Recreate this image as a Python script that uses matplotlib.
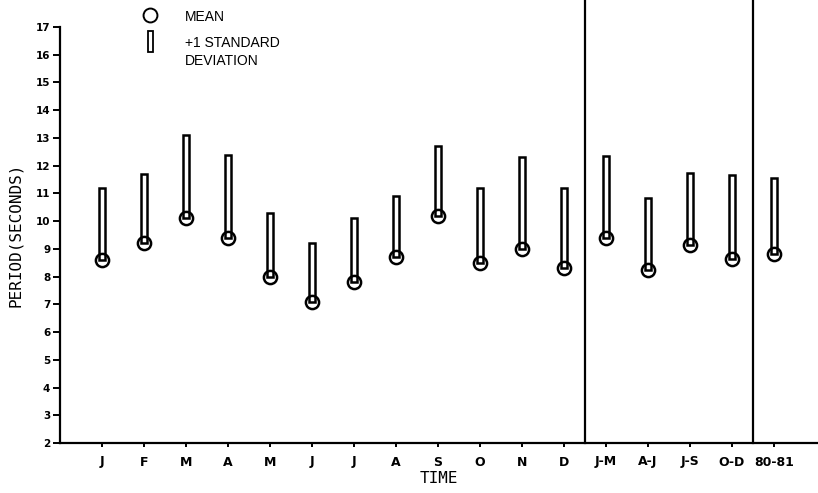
import matplotlib.pyplot as plt
from matplotlib.patches import Rectangle
from matplotlib.lines import Line2D

# periods (seconds)
labels = ['J', 'F', 'M', 'A', 'M', 'J', 'J', 'A', 'S', 'O', 'N', 'D',
          'J-M', 'A-J', 'J-S', 'O-D', '80-81']
means = [8.6, 9.2, 10.1, 9.4, 8.0, 7.1, 7.8, 8.7, 10.2, 8.5, 9.0, 8.3,
         9.4, 8.25, 9.15, 8.65, 8.8]
plus_sd = [11.2, 11.7, 13.1, 12.4, 10.3, 9.2, 10.1, 10.9, 12.7, 11.2, 12.3, 11.2,
           12.35, 10.85, 11.75, 11.65, 11.55]
dividers = [12.5, 16.5]

x = list(range(1, len(labels) + 1))

fig = plt.figure(figsize=(8.18, 4.93), dpi=100)
ax = fig.add_axes([60 / 818, 1 - 443 / 493, 1 - 60 / 818, 416 / 493])

heights = [t - m for t, m in zip(plus_sd, means)]
ax.bar(x, heights, bottom=means, width=0.15, color='white',
       edgecolor='black', linewidth=1.8, zorder=2)
ax.plot(x, means, linestyle='none', marker='o', markersize=9.5,
        markerfacecolor='none', markeredgecolor='black', markeredgewidth=1.8, zorder=3)

for d in dividers:
    ax.plot([d, d], [2, 17.95], color='black', linewidth=1.6, clip_on=False)

ax.set_xlim(0, 18.05)
ax.set_ylim(2, 17)
ax.set_yticks(range(2, 18))
ax.set_xticks(x)
ax.set_xticklabels(labels)
for s in ['top', 'right']:
    ax.spines[s].set_visible(False)
for s in ['left', 'bottom']:
    ax.spines[s].set_linewidth(1.6)
ax.tick_params(axis='y', direction='out', length=5, width=1.4, pad=2,
               labelsize=7.5)
ax.tick_params(axis='x', direction='out', length=3, width=1.4, pad=6,
               labelsize=9)
for lbl in ax.get_yticklabels() + ax.get_xticklabels():
    lbl.set_fontweight('bold')

ax.set_ylabel('PERIOD(SECONDS)', fontsize=11.5, family='DejaVu Sans Mono', labelpad=9)
ax.set_xlabel('TIME', fontsize=11.5, family='DejaVu Sans Mono', labelpad=2)

# legend drawn by hand at the top
fig.add_artist(Line2D([150 / 818], [1 - 15 / 493], marker='o', markersize=10,
                      markerfacecolor='none', markeredgecolor='black',
                      markeredgewidth=1.4, transform=fig.transFigure))
fig.add_artist(Rectangle((148 / 818, 1 - 52 / 493), 5 / 818, 21 / 493,
                         facecolor='white', edgecolor='black', linewidth=1.3,
                         transform=fig.transFigure))
fig.text(185 / 818, 1 - 17 / 493, 'MEAN', fontsize=10, family='Liberation Sans',
         va='center', ha='left')
fig.text(185 / 818, 1 - 43 / 493, '+1 STANDARD', fontsize=10, family='Liberation Sans',
         va='center', ha='left')
fig.text(185 / 818, 1 - 61 / 493, 'DEVIATION', fontsize=10, family='Liberation Sans',
         va='center', ha='left')

plt.savefig('out.png', dpi=100)
